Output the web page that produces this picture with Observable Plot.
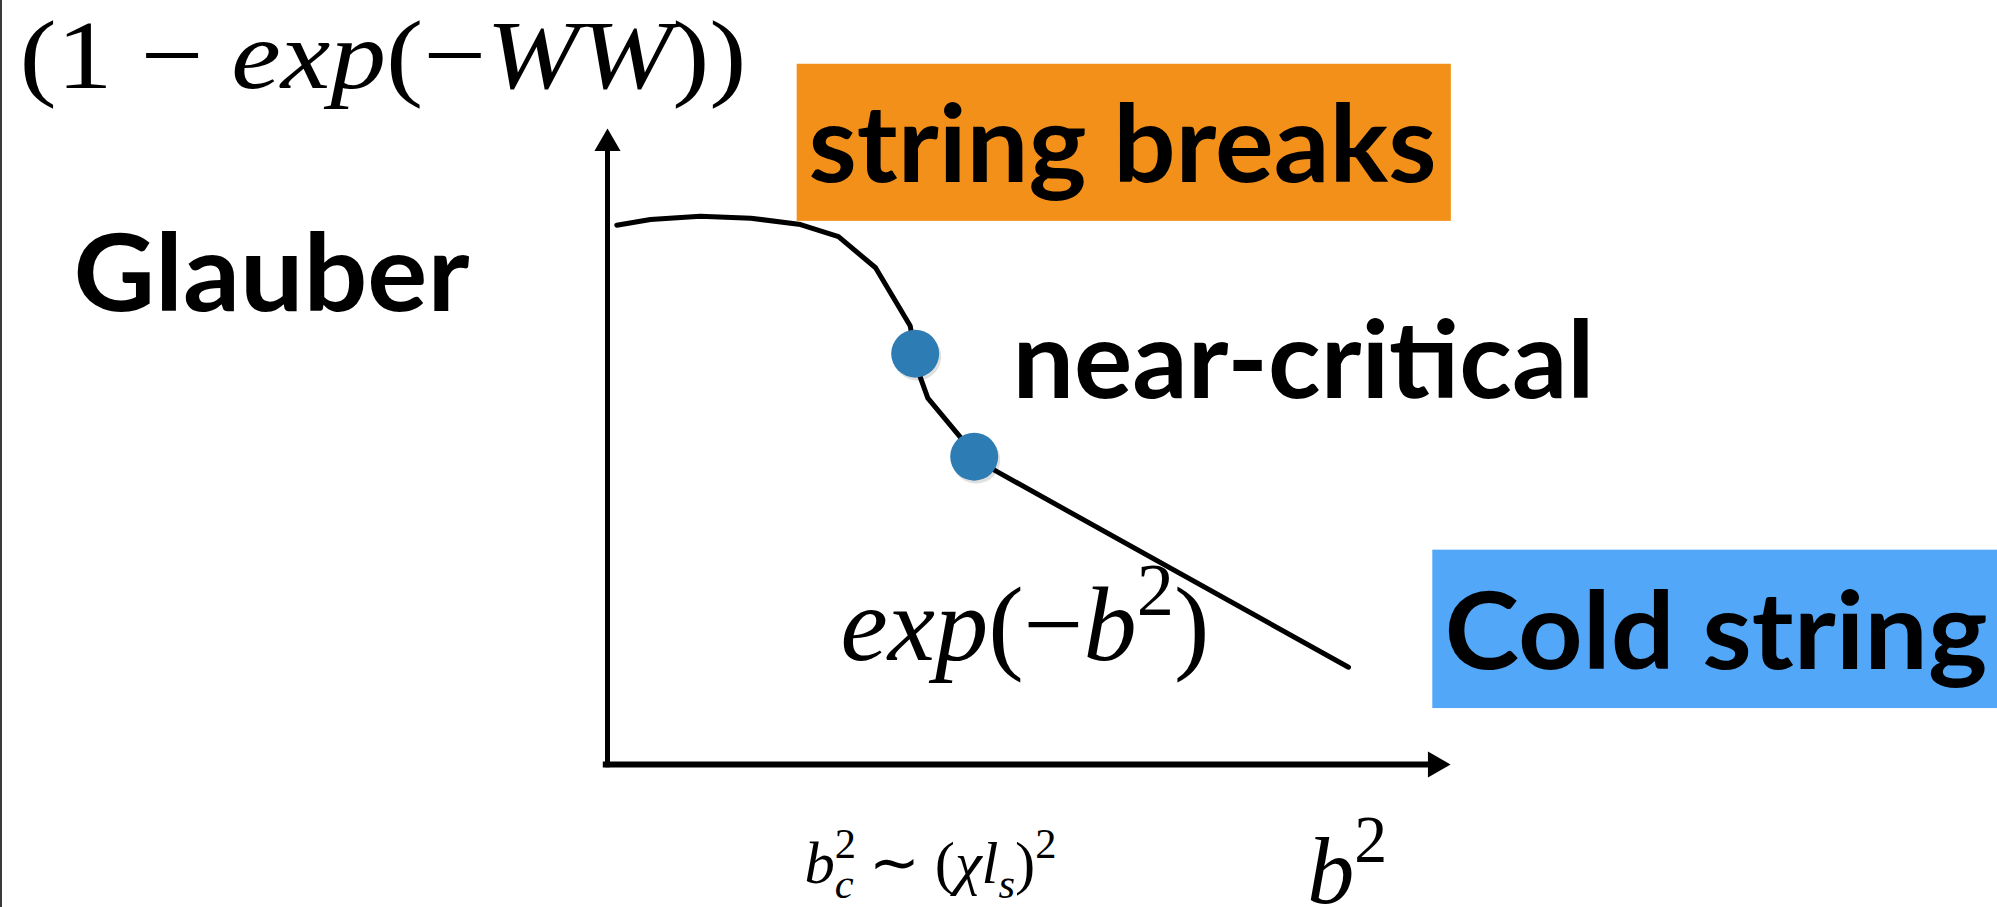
<!DOCTYPE html>
<html>
<head>
<meta charset="utf-8">
<script src="https://cdn.jsdelivr.net/npm/d3@7"></script>
<script src="https://cdn.jsdelivr.net/npm/@observablehq/plot@0.6"></script>
<style>
  html, body { margin: 0; padding: 0; background: #fff; overflow: hidden; }
  #chart { position: relative; width: 1997px; height: 907px; }
  #chart svg { display: block; }
  #edge { position: absolute; left: 0; top: 0; width: 2px; height: 907px; background: #3a3a3a; }
</style>
</head>
<body>
<div id="chart"><div id="edge"></div></div>
<script>
// ---------- data (arbitrary axis units) ----------
// curve: x = b^2, y = 1 - exp(-WW)
const curveB2 = [0.11, 0.51, 1.10, 1.70, 2.29, 2.74, 3.18, 3.59, 3.65, 3.71, 3.80, 4.19, 4.35, 4.60, 8.79];
const curveW  = [8.48, 8.57, 8.62, 8.59, 8.49, 8.30, 7.81, 6.90, 6.46, 6.09, 5.76, 5.14, 4.84, 4.62, 1.53];
// near-critical points
const criticalB2 = [3.65, 4.35];
const criticalW  = [6.46, 4.84];
// region labels
const regionLabels = ["string breaks", "Glauber", "near-critical", "Cold string"];
// math labels as [text, kind] tokens
const yAxisTitle   = [["(1 − ", "r"], ["exp", "i"], ["(−", "r"], ["WW", "i"], ["))", "r"]];
const curveLabel   = [["exp", "i"], ["(−", "r"], ["b", "i"], ["2", "sup"], [")", "r"]];
const criticalTick = [["b", "i"], ["2", "sup"], ["c", "subback"], [" ∼ (", "r"], ["χl", "i"], ["s", "sub"], [")", "r"], ["2", "sup"]];
const xAxisTitle   = [["b", "i"], ["2", "sup"]];

// ---------- layout (annotation anchors in axis units, styles) ----------
const ORANGE = "#f39019", BLUE = "#53a7f9", DOT = "#2d7cb3";
const boxes = [
  {x1: 2.25, x2: 10.01, y1: 8.54, y2: 11.01, fill: ORANGE},
  {x1: 9.79, x2: 16.7,  y1: 0.88, y2: 3.37,  fill: BLUE}
];
const regionPos = [
  {x: 2.384, y: 9.151, w: 628},
  {x: -6.335, y: 7.138, w: 396},
  {x: 4.804, y: 5.770, w: 582},
  {x: 9.929, y: 1.494, w: 543}
];
const mathSpecs = [
  {tokens: yAxisTitle,   x: -6.975, y: 10.63, size: 98, w: 727},
  {tokens: curveLabel,   x: 2.764,  y: 1.65,  size: 106, w: 369},
  {tokens: criticalTick, x: 2.337,  y: -1.871, size: 60, w: 252},
  {tokens: xAxisTitle,   x: 8.30,  y: -2.17, size: 96, w: 80}
];

const curve = curveB2.map((b, i) => ({b2: b, w: curveW[i]}));
const critical = criticalB2.map((b, i) => ({b2: b, w: criticalW[i]}));
const regions = regionLabels.map((t, i) => ({text: t, ...regionPos[i]}));

const svg = Plot.plot({
  width: 1997,
  height: 907,
  margin: 0,
  style: {background: "#fff", overflow: "visible"},
  x: {domain: [0, 10], range: [607, 1450], axis: null},
  y: {domain: [0, 10], range: [764, 128], axis: null},
  marks: [
    Plot.rect(boxes, {x1: "x1", x2: "x2", y1: "y1", y2: "y2", fill: d => d.fill}),
    // axes with arrowheads
    Plot.ruleX([0], {y1: -0.05, y2: 9.75, stroke: "black", strokeWidth: 5}),
    Plot.ruleY([0], {x1: -0.05, x2: 9.8, stroke: "black", strokeWidth: 6}),
    Plot.dot([{x: 0, y: 10}], {x: "x", y: "y", symbol: "triangle", r: 9.7, fill: "black", stroke: "none", dy: 15}),
    Plot.dot([{x: 10, y: 0}], {x: "x", y: "y", symbol: "triangle", r: 9.7, fill: "black", stroke: "none", rotate: 90, dx: -15}),
    // curve
    Plot.line(curve, {x: "b2", y: "w", stroke: "black", strokeWidth: 5, strokeLinejoin: "round", curve: "linear"}),
    Plot.dot(critical, {x: "b2", y: "w", r: 24, fill: "#000", fillOpacity: 0.12, stroke: "none", dx: 2, dy: 3}),
    Plot.dot(critical, {x: "b2", y: "w", r: 24, fill: DOT, stroke: "none"}),
    // labels
    Plot.text(regions, {x: "x", y: "y", text: "text", textAnchor: "start", lineAnchor: "bottom",
      fontSize: 107, fontWeight: "bold", fontFamily: "Lato", fill: "black", ariaDescription: "region-label"}),
    Plot.text(mathSpecs, {x: "x", y: "y", text: d => d.tokens.map(t => t[0]).join(""), textAnchor: "start", lineAnchor: "bottom",
      fontSize: d => d.size, fontFamily: "Liberation Serif", fill: "black", ariaDescription: "math-label"})
  ]
});
document.getElementById("chart").append(svg);

// text groups: the two text marks, in order
const textGroups = svg.querySelectorAll('g[aria-label="text"]');
const regionTexts = textGroups[0].querySelectorAll("text");
const mathTexts = textGroups[1].querySelectorAll("text");

regionTexts.forEach((el, i) => {
  el.setAttribute("textLength", regions[i].w);
  el.setAttribute("lengthAdjust", "spacingAndGlyphs");
});

const NS = "http://www.w3.org/2000/svg";
function typeset(el, spec) {
  const b = spec.size;
  while (el.firstChild) el.removeChild(el.firstChild);
  let cur = 0, prev = null;
  for (const [s, kind] of spec.tokens) {
    const ts = document.createElementNS(NS, "tspan");
    ts.textContent = s;
    let off = 0, fs = b, italic = kind === "i";
    if (kind === "sup") { off = -0.42 * b; fs = 0.7 * b; }
    if (kind === "sub" || kind === "subback") { off = 0.24 * b; fs = 0.7 * b; italic = true; }
    ts.setAttribute("font-size", fs);
    ts.setAttribute("font-style", italic ? "italic" : "normal");
    if (off !== cur) ts.setAttribute("dy", off - cur);
    cur = off;
    el.appendChild(ts);
    if (kind === "subback" && prev) ts.setAttribute("dx", -prev.getComputedTextLength());
    prev = ts;
  }
  el.setAttribute("textLength", spec.w);
  el.setAttribute("lengthAdjust", "spacingAndGlyphs");
}
mathTexts.forEach((el, i) => typeset(el, mathSpecs[i]));
</script>
</body>
</html>
